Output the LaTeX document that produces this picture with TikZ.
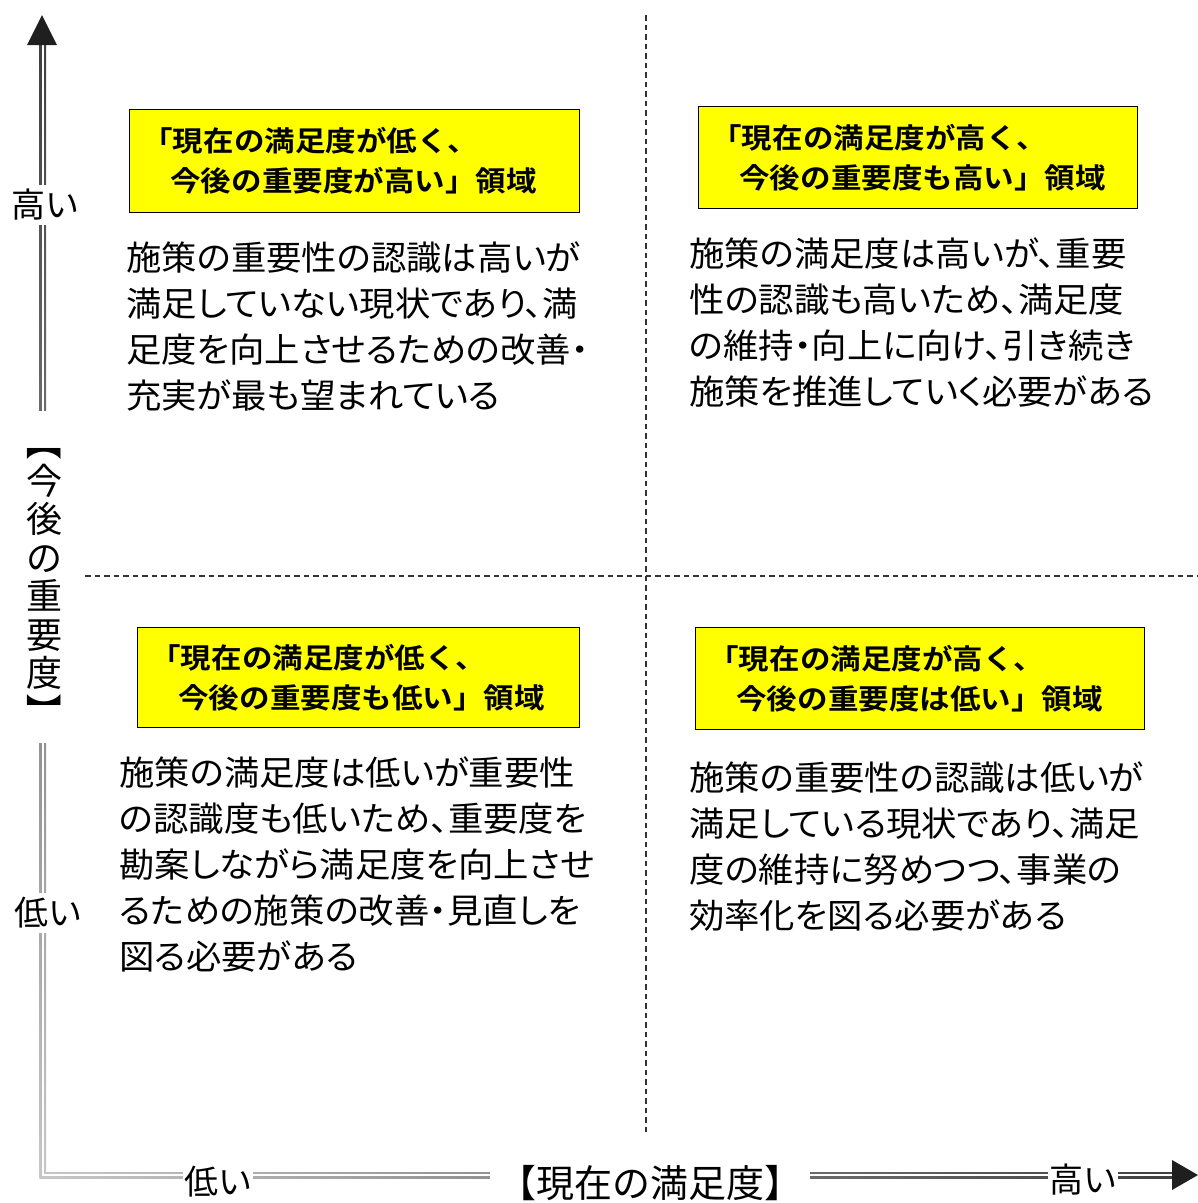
\documentclass[tikz,border=0pt]{standalone}
\usepackage{fontspec}
\setmainfont{Noto Sans CJK JP}[RawFeature={+palt}, FakeStretch=1.04]
\newfontfamily\headfont{Noto Sans CJK JP Bold}[FakeStretch=1.09]
\newfontfamily\axisfont{Noto Sans CJK JP}[RawFeature={+palt}]
\newfontfamily\titlefont{Noto Sans CJK JP}
\definecolor{boxyellow}{RGB}{255,255,0}
\usetikzlibrary{calc}

\begin{document}
\begin{tikzpicture}[x=1pt, y=-1pt,
    quadbox/.style={draw, line width=0.9pt, fill=boxyellow, anchor=north west,
      align=left, inner xsep=13pt, inner ysep=0pt,
      font=\headfont\fontsize{28}{40}\selectfont},
    bodytext/.style={anchor=north west, inner sep=0pt, align=left,
      font=\fontsize{34}{46}\selectfont},
    axislabel/.style={fill=white, inner xsep=2pt, inner ysep=4pt,
      font=\axisfont\fontsize{34}{37.5}\selectfont},
    divider/.style={black!80, line width=1.3pt, dash pattern=on 5.5pt off 4pt}]
  \useasboundingbox (0,0) rectangle (1198,1203);

  \coordinate (origin) at (42,1175);
  \coordinate (ytip) at (42,15);
  \coordinate (xtip) at (1198,1175);

  % dashed quadrant lines
  \coordinate (vtop) at (646,15);
  \coordinate (vbot) at (646,1135);
  \coordinate (hleft) at (85,576);
  \coordinate (hright) at (1198,576);
  \draw[divider] (vtop) -- (vbot);
  \draw[divider] (hleft) -- (hright);

  % axes (double line, getting darker towards the tips)
  \shade[bottom color=black!22, top color=black!75] (39.5,44) rectangle (46,1178.5);
  \shade[left color=black!22, right color=black!75] (39.5,1172) rectangle (1173,1178.5);
  \fill[white] (41.6,44) rectangle (43.9,1176.4);
  \fill[white] (41.6,1174.1) rectangle (1173,1176.4);
  \fill[black!88] (ytip) -- ++(-15,30) -- ++(30,0) -- cycle;
  \fill[black!88] (xtip) -- ++(-26,-15) -- ++(0,30) -- cycle;

  \node[axislabel] (yhigh) at (45,205) {高い};
  \node[axislabel] (ylow) at (48,913) {低い};
  \node[axislabel, inner ysep=13pt, align=center, font=\titlefont\fontsize{36}{38.5}\selectfont] (ytitle) at (44,577)
    {\rotatebox[origin=c]{-90}{【}\\今\\後\\の\\重\\要\\度\\\rotatebox[origin=c]{-90}{】}};
  \node[axislabel] (xlow) at (218,1182) {低い};
  \node[axislabel, inner xsep=8pt, font=\titlefont\fontsize{38}{40}\selectfont] (xtitle) at (650,1183) {【現在の満足度】};
  \node[axislabel] (xhigh) at (1083,1180) {高い};

  % high importance, low satisfaction
  \node[quadbox, text width=424pt, minimum height=103pt] (boxtl) at (129,109)
    {「現在の満足度が低く、\\\hspace*{1em}今後の重要度が高い」領域};
  \node[bodytext] (texttl) at (126,242)
    {施策の重要性の認識は高いが\\満足していない現状であり、満\\足度を向上させるための改善・\\充実が最も望まれている};

  % high importance, high satisfaction
  \node[quadbox, text width=413pt, minimum height=102pt] (boxtr) at (698,106)
    {「現在の満足度が高く、\\\hspace*{1em}今後の重要度も高い」領域};
  \node[bodytext] (texttr) at (689,238)
    {施策の満足度は高いが、重要\\性の認識も高いため、満足度\\の維持・向上に向け、引き続き\\施策を推進していく必要がある};

  % low importance, low satisfaction
  \node[quadbox, text width=416pt, minimum height=100pt] (boxbl) at (137,627)
    {「現在の満足度が低く、\\\hspace*{1em}今後の重要度も低い」領域};
  \node[bodytext] (textbl) at (119,757)
    {施策の満足度は低いが重要性\\の認識度も低いため、重要度を\\勘案しながら満足度を向上させ\\るための施策の改善・見直しを\\図る必要がある};

  % low importance, high satisfaction
  \node[quadbox, text width=423pt, minimum height=102pt] (boxbr) at (695,627)
    {「現在の満足度が高く、\\\hspace*{1em}今後の重要度は低い」領域};
  \node[bodytext] (textbr) at (689,762)
    {施策の重要性の認識は低いが\\満足している現状であり、満足\\度の維持に努めつつ、事業の\\効率化を図る必要がある};
\end{tikzpicture}
\end{document}
